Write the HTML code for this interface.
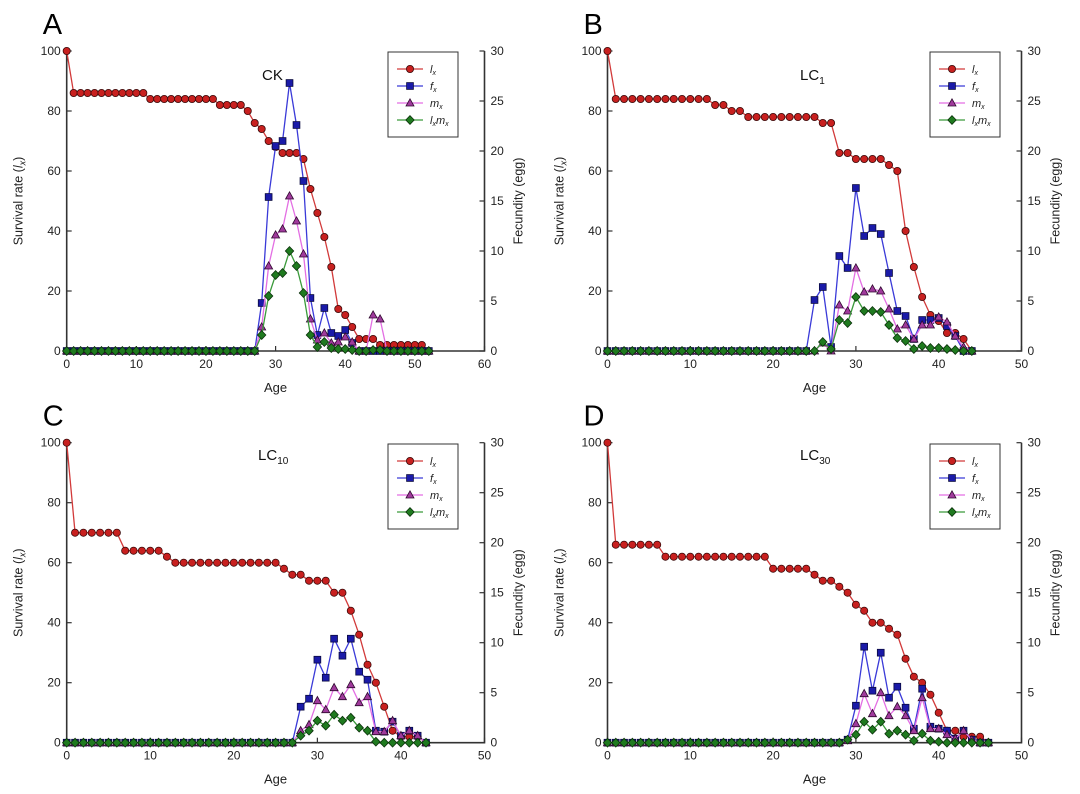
<!DOCTYPE html>
<html><head><meta charset="utf-8"><style>
body{margin:0;background:#fff;width:1080px;height:794px;overflow:hidden;font-family:"Liberation Sans",sans-serif}
svg{position:absolute;left:0;top:0}
</style></head><body>
<svg id="chart" width="1080" height="794" viewBox="0 0 1080 794" xmlns="http://www.w3.org/2000/svg"></svg>
<script>
// Panel A (CK)
const ageMaxA = 60;
const lxA = [100,86,86,86,86,86,86,86,86,86,86,86,84,84,84,84,84,84,84,84,84,84,82,82,82,82,80,76,74,70,68,66,66,66,64,54,46,38,28,14,12,8,4,4,4,2,2,2,2,2,2,2,0];
const fxA = [0,0,0,0,0,0,0,0,0,0,0,0,0,0,0,0,0,0,0,0,0,0,0,0,0,0,0,0,4.8,15.4,20.5,21,26.8,22.6,17,5.3,1.6,4.3,1.8,1.5,2.1,0.8,0,0,0,0,0,0,0,0,0,0,0];
const mxA = [0,0,0,0,0,0,0,0,0,0,0,0,0,0,0,0,0,0,0,0,0,0,0,0,0,0,0,0,2.4,8.5,11.6,12.2,15.5,13,9.7,3.2,1.1,1.8,0.8,0.9,1.4,0.9,0,0,3.6,3.2,0,0,0,0,0,0,0];
const lxmxA = [0,0,0,0,0,0,0,0,0,0,0,0,0,0,0,0,0,0,0,0,0,0,0,0,0,0,0,0,1.6,5.5,7.6,7.8,10,8.5,5.8,1.6,0.4,0.9,0.3,0.2,0.2,0.1,0,0,0.1,0.1,0,0,0,0,0,0,0];
// Panel B (LC1)
const ageMaxB = 50;
const lxB = [100,84,84,84,84,84,84,84,84,84,84,84,84,82,82,80,80,78,78,78,78,78,78,78,78,78,76,76,66,66,64,64,64,64,62,60,40,28,18,12,10,6,6,4,0];
const fxB = [0,0,0,0,0,0,0,0,0,0,0,0,0,0,0,0,0,0,0,0,0,0,0,0,0,5.1,6.4,0.4,9.5,8.3,16.3,11.5,12.3,11.7,7.8,4,3.5,1.2,3.1,3.1,3.3,2.5,1.5,0,0];
const mxB = [0,0,0,0,0,0,0,0,0,0,0,0,0,0,0,0,0,0,0,0,0,0,0,0,0,0,0.8,0,4.6,4,8.3,5.9,6.2,6,4.2,2.2,2.6,1.2,2.6,2.6,3.4,2.9,1.5,0.4,0];
const lxmxB = [0,0,0,0,0,0,0,0,0,0,0,0,0,0,0,0,0,0,0,0,0,0,0,0,0,0,0.9,0.2,3.1,2.8,5.4,4,4,3.9,2.6,1.3,1,0.2,0.5,0.3,0.3,0.2,0.1,0,0];
// Panel C (LC10)
const ageMaxC = 50;
const lxC = [100,70,70,70,70,70,70,64,64,64,64,64,62,60,60,60,60,60,60,60,60,60,60,60,60,60,58,56,56,54,54,54,50,50,44,36,26,20,12,4,2,2,2,0];
const fxC = [0,0,0,0,0,0,0,0,0,0,0,0,0,0,0,0,0,0,0,0,0,0,0,0,0,0,0,0,3.6,4.4,8.3,6.5,10.4,8.7,10.4,7.1,6.3,1.2,1.1,2.1,0.7,1.2,0.7,0];
const mxC = [0,0,0,0,0,0,0,0,0,0,0,0,0,0,0,0,0,0,0,0,0,0,0,0,0,0,0,0,1.2,1.8,4.2,3.3,5.5,4.6,5.8,4,4.6,1.1,1.1,2.2,0.7,1.2,0.7,0];
const lxmxC = [0,0,0,0,0,0,0,0,0,0,0,0,0,0,0,0,0,0,0,0,0,0,0,0,0,0,0,0,0.7,1.2,2.2,1.7,2.8,2.2,2.5,1.5,1.2,0.1,0,0,0,0,0,0];
// Panel D (LC30)
const ageMaxD = 50;
const lxD = [100,66,66,66,66,66,66,62,62,62,62,62,62,62,62,62,62,62,62,62,58,58,58,58,58,56,54,54,52,50,46,44,40,40,38,36,28,22,20,16,10,4,4,2,2,2,0];
const fxD = [0,0,0,0,0,0,0,0,0,0,0,0,0,0,0,0,0,0,0,0,0,0,0,0,0,0,0,0,0,0.3,3.7,9.6,5.2,9,4.5,5.6,3.5,1.4,5.4,1.6,1.4,1.2,0.4,1.2,0.3,0,0];
const mxD = [0,0,0,0,0,0,0,0,0,0,0,0,0,0,0,0,0,0,0,0,0,0,0,0,0,0,0,0,0,0.2,1.9,4.9,2.9,5,2.7,3.6,2.7,1.2,4.5,1.4,1.4,0.8,0.4,1.2,0.3,0,0];
const lxmxD = [0,0,0,0,0,0,0,0,0,0,0,0,0,0,0,0,0,0,0,0,0,0,0,0,0,0,0,0,0,0.3,0.8,2.1,1.3,2.1,0.9,1.2,0.8,0.2,0.9,0.2,0.1,0,0,0,0,0,0];

const leftTicks = [0,20,40,60,80,100];
const rightTicks = [0,5,10,15,20,25,30];

const NS = "http://www.w3.org/2000/svg";
const svg = document.getElementById('chart');
function mk(tag, attrs, parent){const e=document.createElementNS(NS,tag);for(const k in attrs)e.setAttribute(k,attrs[k]);(parent||svg).appendChild(e);return e;}

const panels = [
 {letter:'A',title:'CK',sub:'',x0:66.7,x1:484.5,y0:351,y1:51,amax:ageMaxA,step:10,lx:lxA,fx:fxA,mx:mxA,lxmx:lxmxA,tx:262,ty:80,lgx:388,lgy:52},
 {letter:'B',title:'LC',sub:'1',x0:607.5,x1:1021.5,y0:351,y1:51,amax:ageMaxB,step:10,lx:lxB,fx:fxB,mx:mxB,lxmx:lxmxB,tx:800,ty:80,lgx:930,lgy:52},
 {letter:'C',title:'LC',sub:'10',x0:66.7,x1:484.5,y0:742.7,y1:442.7,amax:ageMaxC,step:10,lx:lxC,fx:fxC,mx:mxC,lxmx:lxmxC,tx:258,ty:460,lgx:388,lgy:444},
 {letter:'D',title:'LC',sub:'30',x0:607.5,x1:1021.5,y0:742.7,y1:442.7,amax:ageMaxD,step:10,lx:lxD,fx:fxD,mx:mxD,lxmx:lxmxD,tx:800,ty:460,lgx:930,lgy:444}
];

function marker(g,type,x,y){
  let e;
  if(type==='c'){e=mk('circle',{cx:x,cy:y,r:3.6,fill:'#c8201f',stroke:'#3a0a0a','stroke-width':0.8},g);}
  else if(type==='s'){e=mk('rect',{x:x-3.4,y:y-3.4,width:6.8,height:6.8,fill:'#1a1aa8',stroke:'#0a0a40','stroke-width':0.8},g);}
  else if(type==='t'){e=mk('polygon',{points:`${x},${y-4.2} ${x+4},${y+3} ${x-4},${y+3}`,fill:'#a03a9c',stroke:'#300a30','stroke-width':0.8},g);}
  else {e=mk('polygon',{points:`${x},${y-4.4} ${x+4.2},${y} ${x},${y+4.4} ${x-4.2},${y}`,fill:'#1f7a1f',stroke:'#0a300a','stroke-width':0.8},g);}
  return e;
}

panels.forEach((p,pi)=>{
  const g = mk('g',{});
  
  
  const X = a => p.x0 + (a/p.amax)*(p.x1-p.x0);
  const YL = v => p.y0 - (v/100)*(p.y0-p.y1);
  const YR = v => p.y0 - (v/30)*(p.y0-p.y1);
  // letter
  const L = mk('text',{x:p.x0-24,y:p.y1-17,'font-size':29,fill:'#000'},g); L.textContent=p.letter;
   
  // axes
  const ax = mk('path',{d:`M${p.x0},${p.y1} V${p.y0} H${p.x1} V${p.y1}`,fill:'none',stroke:'#333','stroke-width':1.6},g);
   
  // left ticks
  leftTicks.forEach(v=>{
    const y=YL(v);
    mk('line',{x1:p.x0,x2:p.x0+5,y1:y,y2:y,stroke:'#333','stroke-width':1.2},g);
    const t=mk('text',{x:p.x0-6,y:y+4,'font-size':12,'text-anchor':'end',fill:'#222'},g); t.textContent=v;
     
  });
  rightTicks.forEach(v=>{
    const y=YR(v);
    mk('line',{x1:p.x1,x2:p.x1-5,y1:y,y2:y,stroke:'#333','stroke-width':1.2},g);
    const t=mk('text',{x:p.x1+6,y:y+4,'font-size':12,fill:'#222'},g); t.textContent=v;
     
  });
  for(let a=0;a<=p.amax;a+=p.step){
    const x=X(a);
    mk('line',{x1:x,x2:x,y1:p.y0,y2:p.y0-5,stroke:'#333','stroke-width':1.2},g);
    const t=mk('text',{x:x,y:p.y0+17,'font-size':12,'text-anchor':'middle',fill:'#222'},g); t.textContent=a;
     
  }
  const xt=mk('text',{x:(p.x0+p.x1)/2,y:p.y0+41,'font-size':13,'text-anchor':'middle',fill:'#222'},g); xt.textContent='Age';
   
  const cy=(p.y0+p.y1)/2;
  const yl=mk('text',{x:0,y:0,'font-size':12.5,'text-anchor':'middle',fill:'#222',transform:`translate(${p.x0-44},${cy}) rotate(-90)`},g);
  yl.innerHTML='Survival rate (<tspan font-style="italic">l</tspan><tspan font-style="italic" font-size="9" dy="3">x</tspan><tspan dy="-3">)</tspan>';
   
  const yr=mk('text',{x:0,y:0,'font-size':12.5,'text-anchor':'middle',fill:'#222',transform:`translate(${p.x1+38},${cy}) rotate(-90)`},g);
  yr.textContent='Fecundity (egg)';
   
  // title
  const tt=mk('text',{x:p.tx,y:p.ty,'font-size':15,fill:'#111'},g);
  tt.innerHTML = p.title + (p.sub?`<tspan font-size="10" dy="4">${p.sub}</tspan>`:'');
   
  // series
  const series=[
    {d:p.lx,Y:YL,line:'#d23a3a',m:'c',name:'lx'},
    {d:p.fx,Y:YR,line:'#3a3ad8',m:'s',name:'fx'},
    {d:p.mx,Y:YR,line:'#e36ee3',m:'t',name:'mx'},
    {d:p.lxmx,Y:YR,line:'#3a9a3a',m:'d',name:'lxmx'}
  ];
  series.forEach(s=>{
    const sg=mk('g',{},g);
     
    const pts=s.d.map((v,i)=>X(i).toFixed(2)+','+s.Y(v).toFixed(2)).join(' ');
    const pl=mk('polyline',{points:pts,fill:'none',stroke:s.line,'stroke-width':1.3},sg);
     
    s.d.forEach((v,i)=>{
      const mkEl=marker(sg,s.m,X(i),s.Y(v));
       
    });
  });
  // legend
  const lg=mk('g',{},g);
   
  mk('rect',{x:p.lgx,y:p.lgy,width:70,height:85,fill:'#fff',stroke:'#333','stroke-width':1},lg);
  const labels=['<tspan font-style="italic">l</tspan><tspan font-size="7" dy="2" font-style="italic">x</tspan>',
    '<tspan font-style="italic">f</tspan><tspan font-size="7" dy="2" font-style="italic">x</tspan>',
    '<tspan font-style="italic">m</tspan><tspan font-size="7" dy="2" font-style="italic">x</tspan>',
    '<tspan font-style="italic">l</tspan><tspan font-size="7" dy="2" font-style="italic">x</tspan><tspan font-style="italic" dy="-2">m</tspan><tspan font-size="7" dy="2" font-style="italic">x</tspan>'];
  series.forEach((s,k)=>{
    const y=p.lgy+17+k*17;
    const e=mk('g',{},lg);
     
    mk('line',{x1:p.lgx+9,x2:p.lgx+35,y1:y,y2:y,stroke:s.line,'stroke-width':1.3},e);
    marker(e,s.m,p.lgx+22,y);
    const t=mk('text',{x:p.lgx+42,y:y+4,'font-size':11,fill:'#222'},e); t.innerHTML=labels[k];
  });
});
</script>
</body></html>
